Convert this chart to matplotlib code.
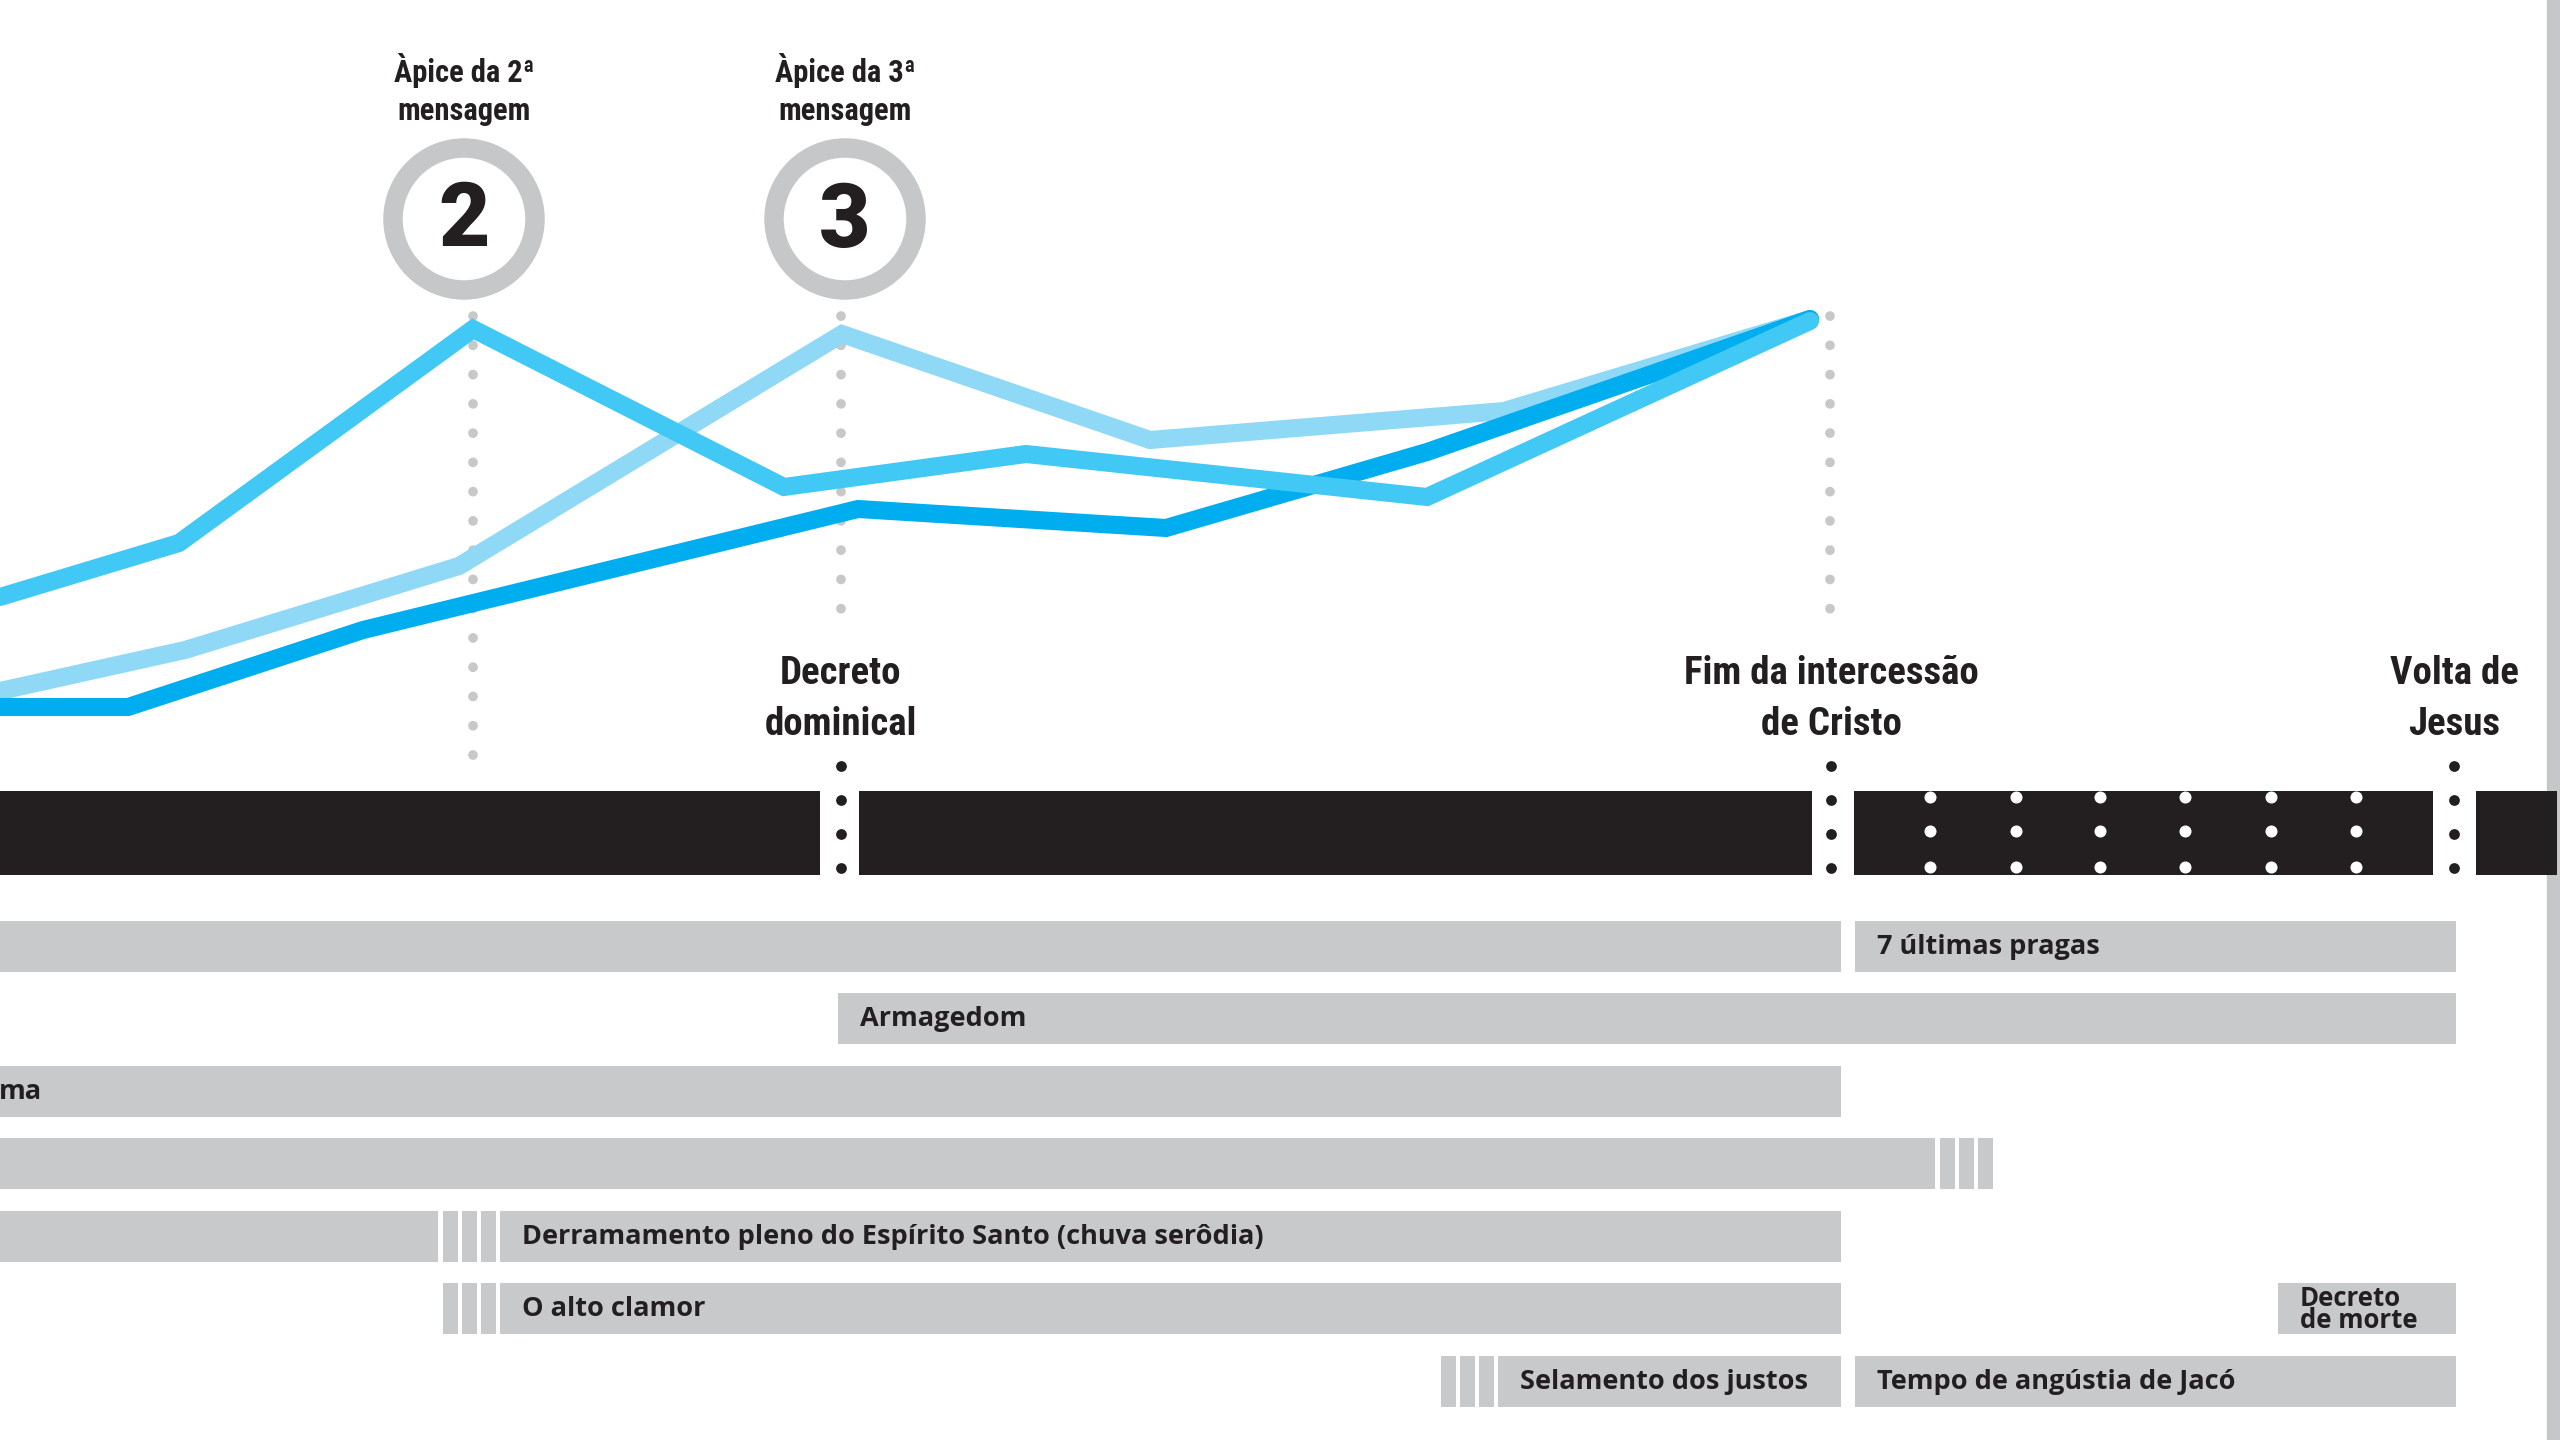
import matplotlib
matplotlib.use('Agg')
import matplotlib.pyplot as plt
from matplotlib.patches import Circle
from matplotlib import font_manager

# --- data (pixel-like units, y grows downward) ---
# three waves of the messages
line_a_x = [0, 179, 473, 784, 1026, 1427, 1810]
line_a_y = [597, 543, 329, 487, 454, 497, 321]
line_b_x = [0, 185, 459, 842, 1150, 1504, 1810]
line_b_y = [691, 650, 566, 334, 440, 411, 319]
line_c_x = [0, 128, 363, 858, 1166, 1427, 1810]
line_c_y = [707, 707, 630, 509, 528, 452, 319]

# apex markers
apex_x = [464, 845]
apex_num = ['2', '3']
apex_label = ['Àpice da 2ª\nmensagem', 'Àpice da 3ª\nmensagem']

# milestones on the black timeline
ms_x = [841, 1831, 2454]
ms_label = ['Decreto\ndominical', 'Fim da intercessão\nde Cristo', 'Volta de\nJesus']
guide_x = [473, 841, 1830]
guide_bottom = [778, 625, 625]

# black timeline segments
tl_start = [0, 859, 1854, 2476]
tl_end = [820, 1812, 2433, 2557]
dot_cols = [1930, 2016, 2100, 2185, 2271, 2356]
dot_rows = [797, 831, 867]

# grey period bars
seg_row = [0, 0, 1, 2, 3, 4, 4, 5, 5, 6, 6]
seg_start = [0, 1855, 838, 0, 0, 0, 500, 500, 2278, 1498, 1855]
seg_end = [1841, 2456, 2456, 1841, 1935, 438, 1841, 1841, 2456, 1841, 2456]
seg_label = ['', '7 últimas pragas', 'Armagedom', 'ma', '', '',
             'Derramamento pleno do Espírito Santo (chuva serôdia)',
             'O alto clamor', 'Decreto\nde morte', 'Selamento dos justos',
             'Tempo de angústia de Jacó']
stripe_row = [3, 4, 5, 6]
stripe_start = [1940, 443, 443, 1441]


# --- fonts: look for a condensed bold face on the system ---
def find_condensed():
    prefs = ['liberationsansnarrow-bold.', 'robotocondensed-bold.',
             'notosans-condensedbold.', 'dejavusanscondensed-bold.',
             'opensans-condensedbold.']
    files = [f.fname for f in font_manager.fontManager.ttflist]
    for p in prefs:
        for fn in files:
            if fn.lower().split('/')[-1].startswith(p):
                return font_manager.FontProperties(fname=fn)
    for fn in files:
        low = fn.lower().split('/')[-1]
        if ('condensed' in low or 'narrow' in low) and 'bold' in low \
                and 'italic' not in low and 'extra' not in low and 'semi' not in low:
            return font_manager.FontProperties(fname=fn)
    return font_manager.FontProperties(family='DejaVu Sans', weight='bold',
                                       stretch='condensed')


cond = find_condensed()
names = {f.name for f in font_manager.fontManager.ttflist}
label_font = 'Open Sans' if 'Open Sans' in names else 'DejaVu Sans'
num_font = 'Roboto' if 'Roboto' in names else 'DejaVu Sans'
dark = '#231f20'
grey = '#c8c9cb'

fig = plt.figure(figsize=(25.6, 14.4), dpi=100)
ax = fig.add_axes([0, 0, 1, 1])
ax.set_xlim(0, 2560)
ax.set_ylim(1440, 0)
ax.axis('off')

# right edge strip
ax.axvspan(2547, 2560, color='#c6c7c8', zorder=0)

# dotted grey guides
for gx, gb in zip(guide_x, guide_bottom):
    ax.plot([gx, gx], [316, gb], color='#c8c8c8', lw=7,
            linestyle=(0, (0.01, 3)), dash_capstyle='round', zorder=1)

# the three lines
ax.plot(line_b_x, line_b_y, color='#8fd8f6', lw=13, solid_capstyle='round',
        solid_joinstyle='miter', zorder=3)
ax.plot(line_c_x, line_c_y, color='#00adee', lw=13, solid_capstyle='round',
        solid_joinstyle='miter', zorder=4)
ax.plot(line_a_x, line_a_y, color='#42c8f4', lw=13, solid_capstyle='round',
        solid_joinstyle='miter', zorder=5)

# apex circles
for cx, num, lab in zip(apex_x, apex_num, apex_label):
    ax.add_patch(Circle((cx, 219), 71, facecolor='white', edgecolor='#c6c7c8',
                        lw=14, zorder=6))
    ax.text(cx, 222, num, ha='center', va='center', fontsize=64,
            fontweight='black', family=num_font, color=dark, zorder=7)
    for j, line in enumerate(lab.split('\n')):
        ax.text(cx, 82 + 38 * j, line, ha='center', va='baseline',
                fontproperties=cond, fontsize=22, color=dark)

# black timeline
ax.barh(833, [e - s for s, e in zip(tl_start, tl_end)], left=tl_start,
        height=84, color=dark, zorder=2)
for c in dot_cols:
    ax.scatter([c] * len(dot_rows), dot_rows, s=75, color='white', zorder=3,
               linewidths=0)
for mx, lab in zip(ms_x, ms_label):
    ax.scatter([mx] * 4, [766, 800, 834, 868], s=60, color=dark, zorder=3,
               linewidths=0)
    for j, line in enumerate(lab.split('\n')):
        ax.text(mx, 684 + 51 * j, line, ha='center', va='baseline',
                fontproperties=cond, fontsize=28, color=dark)

# grey period bars
row_y = [946 + 72.5 * r for r in range(7)]
for r, s, e, lab in zip(seg_row, seg_start, seg_end, seg_label):
    ax.barh(row_y[r], e - s, left=s, height=51, color=grey, zorder=2)
    if not lab:
        continue
    tx = s + 22 if s > 0 else -1
    if '\n' in lab:
        ax.text(s + 22, row_y[r] + 1, lab, ha='left', va='center',
                fontsize=18.5, fontweight='bold', family=label_font,
                color=dark, linespacing=0.72)
    else:
        ax.text(tx, row_y[r] + 1, lab, ha='left', va='center',
                fontsize=19.5, fontweight='bold', family=label_font,
                color=dark)
for r, s in zip(stripe_row, stripe_start):
    ax.barh([row_y[r]] * 3, 15, left=[s, s + 19, s + 38], height=51,
            color=grey, zorder=2)

fig.savefig('out.png', dpi=100, facecolor='white')
